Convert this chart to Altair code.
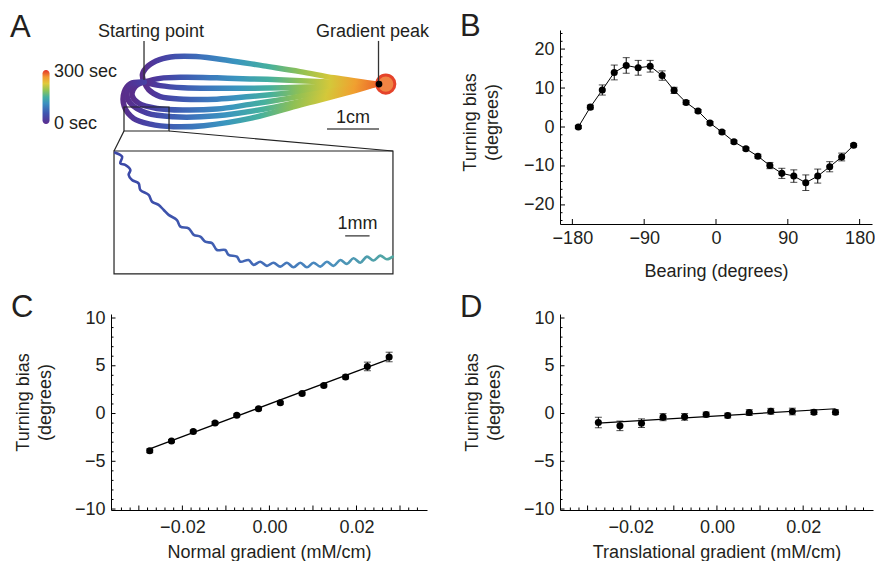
import altair as alt
import pandas as pd
import numpy as np

FONT = "Liberation Sans"
INK = "#231f20"

# ---------------- Panel B : turning bias vs bearing ----------------
bearing = [-172.5, -157.5, -142.5, -127.5, -112.5, -97.5, -82.5, -67.5, -52.5, -37.5,
           -22.5, -7.5, 7.5, 22.5, 37.5, 52.5, 67.5, 82.5, 97.5, 112.5, 127.5, 142.5,
           157.5, 172.5]
bias_b = [0.0, 5.1, 9.5, 14.0, 15.8, 15.2, 15.6, 13.2, 9.4, 6.3, 4.1, 1.0, -1.3, -3.8,
          -5.6, -7.5, -9.9, -11.9, -12.6, -14.3, -12.6, -10.2, -7.7, -4.7]
err_b = [0.4, 0.5, 1.3, 1.9, 2.0, 1.9, 1.5, 1.2, 0.8, 0.5, 0.4, 0.4, 0.4, 0.4, 0.4, 0.5,
         0.8, 1.3, 1.6, 2.0, 1.8, 1.3, 1.0, 0.4]

# ---------------- Panel C : turning bias vs normal gradient ----------------
normal_grad = [-0.0275, -0.0225, -0.0175, -0.0125, -0.0075, -0.0025, 0.0025, 0.0075,
               0.0125, 0.0175, 0.0225, 0.0275]
bias_c = [-3.9, -2.87, -1.88, -0.99, -0.18, 0.5, 1.13, 2.09, 2.94, 3.83, 4.93, 5.92]
err_c = [0.2, 0.15, 0.15, 0.15, 0.15, 0.15, 0.15, 0.15, 0.15, 0.2, 0.45, 0.5]
fit_c_x = [-0.0275, 0.0275]
fit_c_y = [-3.7, 5.7]

# ---------------- Panel D : turning bias vs translational gradient ----------------
trans_grad = [-0.0275, -0.0225, -0.0175, -0.0125, -0.0075, -0.0025, 0.0025, 0.0075,
              0.0125, 0.0175, 0.0225, 0.0275]
bias_d = [-0.94, -1.29, -1.01, -0.38, -0.35, -0.1, -0.21, 0.1, 0.24, 0.21, 0.14, 0.14]
err_d = [0.55, 0.5, 0.45, 0.37, 0.35, 0.25, 0.25, 0.3, 0.3, 0.35, 0.25, 0.25]
fit_d_x = [-0.0275, 0.0275]
fit_d_y = [-1.0, 0.5]

# ---------------- tick labels ----------------
b_x_ticks = [-180, -90, 0, 90, 180]
b_y_ticks = [-20, -10, 0, 10, 20]
cd_x_ticks = [-0.02, 0.0, 0.02]
cd_y_ticks = [-10, -5, 0, 5, 10]

# ---------------- Panel A : trajectories (cm, relative to starting point) ----------------
traj1_x = [0.0, -0.03, 0.08, 0.30, 0.60, 1.00, 1.60, 2.30, 3.00, 3.65, 4.20, 4.47]
traj1_y = [0.0, 0.15, 0.31, 0.43, 0.49, 0.49, 0.42, 0.31, 0.20, 0.08, 0.00, -0.04]
traj2_x = [0.0, 0.31, 0.76, 1.40, 2.04, 2.69, 3.33, 3.97, 4.47]
traj2_y = [0.0, 0.07, 0.09, 0.08, 0.06, 0.04, 0.01, -0.02, -0.04]
traj3_x = [0.0, 0.31, 0.76, 1.40, 2.04, 2.69, 3.33, 3.97, 4.47]
traj3_y = [0.0, -0.07, -0.11, -0.12, -0.12, -0.11, -0.09, -0.06, -0.04]
traj4_x = [0.0, 0.09, 0.31, 0.76, 1.40, 2.04, 2.69, 3.33, 3.97, 4.47]
traj4_y = [0.0, -0.15, -0.28, -0.33, -0.33, -0.28, -0.22, -0.15, -0.09, -0.04]
traj5_x = [0.0, -0.17, -0.23, -0.10, 0.25, 0.76, 1.40, 2.04, 2.69, 3.33, 3.97, 4.47]
traj5_y = [0.0, -0.09, -0.25, -0.41, -0.51, -0.54, -0.52, -0.43, -0.33, -0.22, -0.12, -0.04]
traj6_x = [0.0, -0.22, -0.33, -0.26, 0.06, 0.57, 1.40, 2.37, 3.33, 3.97, 4.47]
traj6_y = [0.0, -0.06, -0.22, -0.41, -0.60, -0.67, -0.65, -0.51, -0.30, -0.15, -0.04]
traj7_x = [0.0, -0.26, -0.38, -0.38, -0.20, 0.12, 0.57, 1.15, 2.04, 3.01, 3.97, 4.47]
traj7_y = [0.0, -0.03, -0.19, -0.47, -0.70, -0.81, -0.86, -0.84, -0.70, -0.44, -0.19, -0.04]
peak_x = [4.65]
peak_y = [-0.04]

# zoomed inset trajectory (mm, origin at inset top-left corner)
inset_x_mm = [0.05, 0.33, 0.26, 0.46, 0.67, 0.60, 0.74, 1.01, 1.08, 1.42, 1.56, 1.83, 2.04,
              2.24, 2.58, 2.72, 3.06, 3.27, 3.54, 3.74, 4.02, 4.22, 4.56, 4.70, 5.04, 5.18,
              5.52, 5.72, 6.00, 6.27, 6.54, 6.82, 7.09, 7.36, 7.64, 7.91, 8.18, 8.46, 8.73,
              9.00, 9.28, 9.55, 9.82, 10.10, 10.37, 10.64, 10.92, 11.19, 11.43]
inset_y_mm = [-0.07, -0.23, -0.51, -0.57, -0.78, -0.98, -1.19, -1.33, -1.60, -1.80, -2.08,
              -2.21, -2.42, -2.62, -2.83, -3.10, -3.17, -3.44, -3.51, -3.72, -3.78, -4.06,
              -4.06, -4.26, -4.33, -4.54, -4.47, -4.67, -4.54, -4.71, -4.58, -4.74, -4.58,
              -4.77, -4.58, -4.77, -4.58, -4.74, -4.54, -4.71, -4.47, -4.63, -4.40, -4.58,
              -4.33, -4.49, -4.29, -4.44, -4.33]

colorbar_labels = ["300 sec", "0 sec"]

# =====================================================================
# helpers
def lin(domain):
    return alt.Scale(domain=domain, nice=False, zero=False)


def grad(stops, x1, y1, x2, y2):
    return alt.LinearGradient(gradient="linear",
                              stops=[alt.GradientStop(offset=o, color=c) for o, c in stops],
                              x1=x1, y1=y1, x2=x2, y2=y2)


def x_axis(title, values, fmt, lp, tp):
    return alt.Axis(title=title, values=values, format=fmt, ticks=False, tickSize=0,
                    domainColor="black", domainWidth=1, grid=False, labelPadding=lp,
                    titlePadding=tp, labelFlush=False, labelOverlap=False,
                    labelFontSize=18, titleFontSize=18, labelFont=FONT, titleFont=FONT,
                    labelColor=INK, titleColor=INK, titleFontWeight="normal")


def y_axis(values, lp, tp, ty):
    return alt.Axis(title=["Turning bias", "(degrees)"], values=values, ticks=False,
                    tickSize=0, domainColor="black", domainWidth=1, grid=False,
                    labelPadding=lp, titlePadding=tp, labelFlush=False, labelOverlap=False,
                    labelFontSize=18, titleFontSize=18, labelFont=FONT, titleFont=FONT,
                    labelColor=INK, titleColor=INK, titleFontWeight="normal",
                    titleLineHeight=22, titleY=ty)


LETTER_SIZE = 31


def build_panel(w, h, xs, ys, xax, yax, series, ticks, let, let_dy):
    """series: list of (df, mark_fn, {channel: field}); all layers share axes."""
    X = lambda f: alt.X(f, scale=xs, axis=xax)
    Y = lambda f: alt.Y(f, scale=ys, axis=yax)
    layers = []
    for df, mk, enc in series:
        e = {}
        for ch, f in enc.items():
            if ch == "x":
                e["x"] = X(f)
            elif ch == "y":
                e["y"] = Y(f)
            else:
                e[ch] = f
        layers.append(mk(alt.Chart(df)).encode(**e))
    for vals, ch, length in ticks:
        df = pd.DataFrame({"v": vals})
        base = alt.Chart(df).mark_rule(color="black", strokeWidth=1)
        if ch == "x":
            layers.append(base.encode(x=X("v:Q"), y=alt.value(h), y2=alt.value(h - length)))
        else:
            layers.append(base.encode(y=Y("v:Q"), x=alt.value(0), x2=alt.value(length)))
    layers.append(alt.Chart(pd.DataFrame({"t": [let]})).mark_text(
        align="left", baseline="alphabetic", fontSize=LETTER_SIZE, font=FONT, color=INK
    ).encode(text="t:N", x=alt.value(-100), y=alt.value(let_dy)))
    return alt.layer(*layers).properties(width=w, height=h)


def err_series(xv, yv, ev, connect=False, fit=None, cap=7, size=50):
    df = pd.DataFrame({"x": xv, "y": yv, "e": ev})
    df["lo"] = df["y"] - df["e"]
    df["hi"] = df["y"] + df["e"]
    caps = pd.concat([df[["x"]].assign(c=df["lo"]), df[["x"]].assign(c=df["hi"])])
    s = []
    if connect:
        s.append((df, lambda c: c.mark_line(color="black", strokeWidth=1),
                  {"x": "x:Q", "y": "y:Q"}))
    if fit is not None:
        s.append((pd.DataFrame({"x": fit[0], "y": fit[1]}),
                  lambda c: c.mark_line(color="black", strokeWidth=1.2),
                  {"x": "x:Q", "y": "y:Q"}))
    s.append((df, lambda c: c.mark_rule(color="black", strokeWidth=1),
              {"x": "x:Q", "y": "lo:Q", "y2": "hi:Q"}))
    s.append((caps, lambda c: c.mark_tick(orient="horizontal", size=cap, thickness=1,
                                          color="black"),
              {"x": "x:Q", "y": "c:Q"}))
    s.append((df, lambda c: c.mark_circle(color="black", opacity=1, size=size),
              {"x": "x:Q", "y": "y:Q"}))
    return s


# =====================================================================
# Panel B
B_W, B_H = 312, 194
xs_b = lin([-195.5, 195.5])
ys_b = lin([-24.9, 24.9])
b_minor_y = [v for v in range(-24, 25, 2) if v % 10 != 0]
panel_b = build_panel(
    B_W, B_H, xs_b, ys_b,
    x_axis("Bearing (degrees)", b_x_ticks, "d", 5, 15),
    y_axis(b_y_ticks, 6, 22, 92),
    err_series(bearing, bias_b, err_b, connect=True),
    [(b_x_ticks, "x", 5), (b_y_ticks, "y", 5), (b_minor_y, "y", 2.5)],
    "B", 6,
)

# Panel C / D
C_W, D_W, CD_H = 316, 313, 196
xs_cd = lin([-0.0364, 0.0362])
ys_cd = lin([-10.1, 10.42])
cd_major_x = [-0.03, -0.02, -0.01, 0.0, 0.01, 0.02, 0.03]
cd_minor_x = [round(v, 3) for v in np.arange(-0.034, 0.0345, 0.002)
              if abs(round(v * 100) - v * 100) > 1e-6]
cd_minor_y = [v for v in range(-10, 11) if v % 5 != 0]
cd_ticks = [(cd_major_x, "x", 4.5), (cd_minor_x, "x", 2.5),
            (cd_y_ticks, "y", 4.5), (cd_minor_y, "y", 2.5)]

panel_c = build_panel(
    C_W, CD_H, xs_cd, ys_cd,
    x_axis("Normal gradient (mM/cm)", cd_x_ticks, ".2f", 8, 7),
    y_axis(cd_y_ticks, 6, 20, 88),
    err_series(normal_grad, bias_c, err_c, fit=(fit_c_x, fit_c_y)),
    cd_ticks, "C", 3,
)
panel_d = build_panel(
    D_W, CD_H, xs_cd, ys_cd,
    x_axis("Translational gradient (mM/cm)", cd_x_ticks, ".2f", 8, 7),
    y_axis(cd_y_ticks, 6, 20, 88),
    err_series(trans_grad, bias_d, err_d, fit=(fit_d_x, fit_d_y)),
    cd_ticks, "D", 3,
)

# =====================================================================
# Panel A
A_W, A_H = 326, 194
xs_a = lin([-0.635, 5.635])
ys_a = lin([-2.731, 1.0])
AX = lambda f: alt.X(f, scale=xs_a, axis=None)
AY = lambda f: alt.Y(f, scale=ys_a, axis=None)

trajs = [(traj1_x, traj1_y), (traj2_x, traj2_y), (traj3_x, traj3_y), (traj4_x, traj4_y),
         (traj5_x, traj5_y), (traj6_x, traj6_y), (traj7_x, traj7_y)]
traj_df = pd.concat([pd.DataFrame({"x": tx, "y": ty, "i": range(len(tx)), "p": k})
                     for k, (tx, ty) in enumerate(trajs)])

traj_grad = grad([(0.0, "#5a2d8a"), (0.06, "#4b3a9f"), (0.16, "#4056b0"), (0.28, "#3c78bd"),
                  (0.4, "#3a95bf"), (0.54, "#45b09e"), (0.67, "#8ec055"), (0.8, "#d4c83a"),
                  (0.91, "#f0a030"), (1.0, "#ec6a2c")], 0, 0, 1, 0)
cbar_grad = grad([(0.0, "#5b2c8f"), (0.2, "#3f56b0"), (0.38, "#3b8fc0"), (0.5, "#45b0a0"),
                  (0.62, "#8dc457"), (0.75, "#e0c93a"), (0.87, "#f39a33"), (1.0, "#e2322a")],
                 0, 1, 0, 0)
inset_grad = grad([(0.0, "#3b46a6"), (0.5, "#4268b6"), (0.75, "#4a8cbf"), (1.0, "#52a9a2")],
                  0, 0, 1, 0)

# inset placement (cm in panel) and magnification (cm per mm of inset)
IX0, IY0, IS = -0.577, -1.327, 0.469
inset_df = pd.DataFrame({"x": [IX0 + v * IS for v in inset_x_mm],
                         "y": [IY0 + v * IS for v in inset_y_mm],
                         "i": range(len(inset_x_mm))})

text_df = pd.DataFrame({
    "t": ["Starting point", "Gradient peak", "1cm", "1mm"],
    "x": [0.135, 4.394, 4.02, IX0 + 9.98 * IS],
    "y": [0.865, 0.865, -0.788, IY0 - 3.2 * IS],
})
left_text_df = pd.DataFrame({"t": colorbar_labels, "x": [-1.731, -1.731], "y": [0.096, -0.904]})
leader_df = pd.DataFrame({"x": [0.0, 4.51], "y": [0.79, 0.79], "y2": [0.04, -0.04]})
scalebar_df = pd.DataFrame({"x": [3.52, IX0 + 9.48 * IS], "x2": [4.52, IX0 + 10.48 * IS],
                            "y": [-0.904, IY0 - 3.48 * IS]})
boxes_df = pd.DataFrame({"x": [-0.385, IX0], "x2": [0.481, 4.788],
                         "y": [-0.481, IY0], "y2": [-0.942, -3.692]})
conn_df = pd.DataFrame({"x": [-0.385, 0.481], "y": [-0.942, -0.942],
                        "x2": [IX0, 4.788], "y2": [IY0, IY0]})
cbar_df = pd.DataFrame({"x": [-1.952], "x2": [-1.817], "y": [0.231], "y2": [-0.808]})
dot_df = pd.DataFrame({"x": [4.52], "y": [-0.04]})

panel_a = alt.layer(
    alt.Chart(traj_df).mark_line(stroke=traj_grad, strokeWidth=5.5, interpolate="catmull-rom",
                                 strokeCap="round", strokeJoin="round")
    .encode(x=AX("x:Q"), y=AY("y:Q"), detail="p:N", order="i:Q"),
    alt.Chart(pd.DataFrame({"x": peak_x, "y": peak_y})).mark_point(
        shape="circle", filled=True, fill="#f08443", stroke="#e5432a", strokeWidth=3,
        size=330, opacity=1).encode(x=AX("x:Q"), y=AY("y:Q")),
    alt.Chart(leader_df).mark_rule(color="#333333", strokeWidth=1.3)
    .encode(x=AX("x:Q"), y=AY("y:Q"), y2="y2:Q"),
    alt.Chart(dot_df).mark_circle(color="black", opacity=1, size=45)
    .encode(x=AX("x:Q"), y=AY("y:Q")),
    alt.Chart(text_df).mark_text(align="center", baseline="alphabetic", fontSize=18,
                                 font=FONT, color=INK)
    .encode(x=AX("x:Q"), y=AY("y:Q"), text="t:N"),
    alt.Chart(left_text_df).mark_text(align="left", baseline="alphabetic", fontSize=18,
                                      font=FONT, color=INK)
    .encode(x=AX("x:Q"), y=AY("y:Q"), text="t:N"),
    alt.Chart(cbar_df).mark_rect(fill=cbar_grad, cornerRadius=3.5)
    .encode(x=AX("x:Q"), x2="x2:Q", y=AY("y:Q"), y2="y2:Q"),
    alt.Chart(scalebar_df).mark_rule(color="#555555", strokeWidth=1.5)
    .encode(x=AX("x:Q"), x2="x2:Q", y=AY("y:Q")),
    alt.Chart(boxes_df).mark_rect(filled=False, stroke="#222222", strokeWidth=1.2)
    .encode(x=AX("x:Q"), x2="x2:Q", y=AY("y:Q"), y2="y2:Q"),
    alt.Chart(conn_df).mark_rule(color="#222222", strokeWidth=1.2)
    .encode(x=AX("x:Q"), x2="x2:Q", y=AY("y:Q"), y2="y2:Q"),
    alt.Chart(inset_df).mark_line(stroke=inset_grad, strokeWidth=2.6,
                                  interpolate="catmull-rom", strokeCap="round")
    .encode(x=AX("x:Q"), y=AY("y:Q"), order="i:Q"),
    alt.Chart(pd.DataFrame({"t": ["A"], "x": [-2.577], "y": [0.865]}))
    .mark_text(align="left", baseline="alphabetic", fontSize=LETTER_SIZE, font=FONT,
               color=INK)
    .encode(x=AX("x:Q"), y=AY("y:Q"), text="t:N"),
).properties(width=A_W, height=A_H)

chart = alt.concat(
    panel_a, panel_b, panel_c, panel_d,
    columns=2, spacing={"row": 90, "column": 123}, bounds="flush",
).properties(
    padding={"left": 2, "top": 3, "right": 0, "bottom": 0}
).configure_view(strokeWidth=0)

chart.save("out.html", embed_options={"renderer": "svg", "actions": False})
